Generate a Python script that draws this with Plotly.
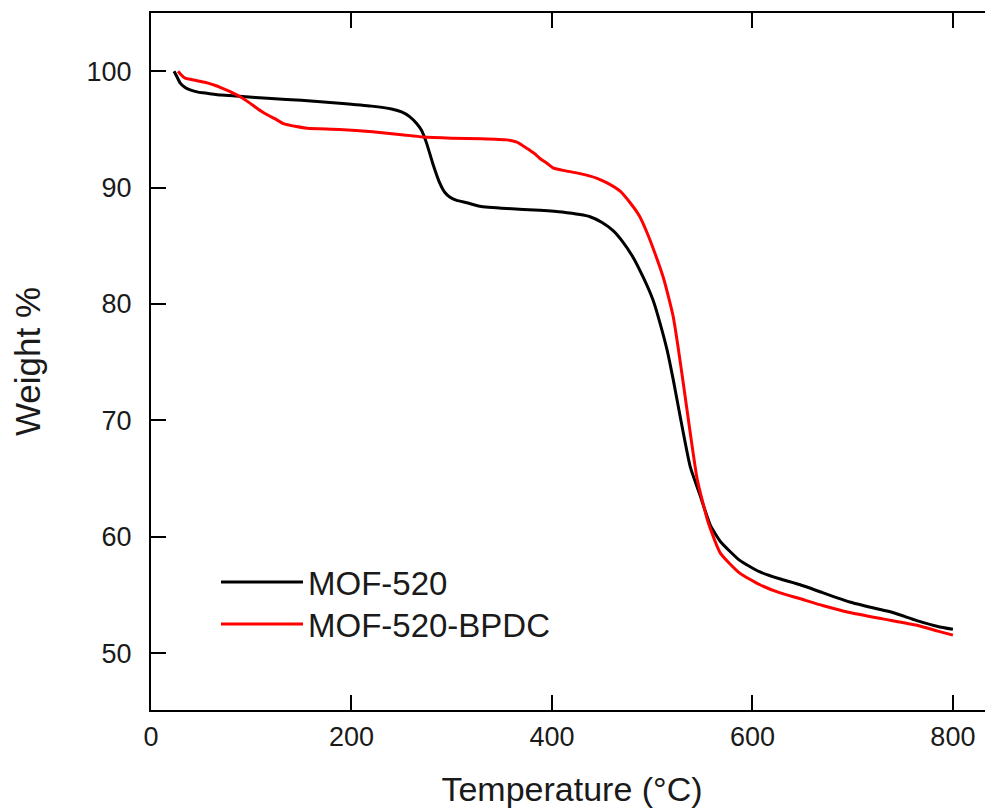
import plotly.graph_objects as go

# MOF-520 (black)
t_mof = [23, 26, 29, 34, 39, 47, 56, 70, 88, 120, 150, 188, 220, 240, 250, 258, 265, 270,
         275, 281, 288, 293, 298, 305, 315, 328, 355, 388, 410, 438, 450, 461, 471, 481,
         491, 501, 508, 515, 521, 528, 538, 548, 558, 568, 587, 607, 627, 647, 670, 697,
         720, 740, 764, 785, 800]
w_mof = [100.0, 99.5, 99.0, 98.6, 98.4, 98.2, 98.1, 97.95, 97.85, 97.65, 97.5, 97.25, 97.0,
         96.75, 96.5, 96.1, 95.5, 94.9, 93.8, 92.1, 90.4, 89.6, 89.2, 88.9, 88.7, 88.4, 88.2,
         88.05, 87.9, 87.5, 87.0, 86.3, 85.3, 84.0, 82.3, 80.3, 78.3, 76.0, 73.5, 70.3, 66.0,
         63.5, 61.0, 59.6, 58.0, 57.0, 56.4, 55.9, 55.2, 54.4, 53.9, 53.5, 52.8, 52.3, 52.05]

# MOF-520-BPDC (red)
t_bpdc = [27, 30, 34, 45, 56, 65, 72, 80, 89, 98, 106, 115, 124, 132, 145, 156, 188, 221, 250,
          271, 300, 330, 355, 365, 371, 378, 383, 388, 395, 401, 410, 428, 445, 455, 468, 478,
          487, 495, 503, 511, 516, 521, 526, 531, 538, 545, 556, 568, 587, 607, 627, 647, 670,
          697, 730, 764, 785, 800]
w_bpdc = [100.0, 99.7, 99.4, 99.2, 99.0, 98.75, 98.5, 98.2, 97.8, 97.3, 96.8, 96.3, 95.9, 95.5,
          95.25, 95.1, 95.0, 94.8, 94.55, 94.35, 94.25, 94.2, 94.1, 93.9, 93.6, 93.2, 92.9, 92.5,
          92.1, 91.7, 91.5, 91.2, 90.8, 90.4, 89.7, 88.7, 87.6, 86.1, 84.3, 82.3, 80.7, 78.9,
          76.2, 73.2, 68.9, 64.9, 61.2, 58.6, 56.9, 55.9, 55.2, 54.7, 54.1, 53.5, 52.95, 52.4,
          51.9, 51.55]

x_ticks = [0, 200, 400, 600, 800]
y_ticks = [50, 60, 70, 80, 90, 100]

FONT = "Liberation Sans, Arial, sans-serif"
TXT = "#1a1a1a"

fig = go.Figure()
fig.add_trace(go.Scatter(x=t_mof, y=w_mof, mode="lines", name="MOF-520", legend="legend",
                         line=dict(color="#000000", width=3, shape="spline", smoothing=0.5)))
fig.add_trace(go.Scatter(x=t_bpdc, y=w_bpdc, mode="lines", name="MOF-520-BPDC", legend="legend2",
                         line=dict(color="#ff0000", width=3, shape="spline", smoothing=0.5)))

leg_common = dict(xanchor="left", yanchor="top", bgcolor="rgba(0,0,0,0)", borderwidth=0,
                  itemwidth=82, font=dict(size=33, family=FONT, color=TXT))

fig.update_layout(
    width=985, height=809,
    margin=dict(l=143, r=0, t=5, b=107),
    paper_bgcolor="white", plot_bgcolor="white",
    font=dict(family=FONT, color=TXT),
    showlegend=True,
    legend=dict(x=65 / 842, y=(702 - 546) / 697, **leg_common),
    legend2=dict(x=65 / 842, y=(702 - 588) / 697, **leg_common),
    xaxis=dict(range=[0, 840], tickvals=x_ticks, ticks="inside", ticklen=15, tickwidth=2,
               tickcolor="black", showline=True, linewidth=2, linecolor="black",
               mirror="ticks", showgrid=False, zeroline=False,
               tickfont=dict(size=27, family=FONT, color=TXT),
               ticklabelstandoff=2,
               title=dict(text="Temperature (°C)", font=dict(size=34, family=FONT, color=TXT),
                          standoff=26)),
    yaxis=dict(range=[45.12, 105], tickvals=y_ticks, ticks="inside", ticklen=15, tickwidth=2,
               tickcolor="black", showline=True, linewidth=2, linecolor="black",
               showgrid=False, zeroline=False,
               tickfont=dict(size=27, family=FONT, color=TXT),
               ticklabelstandoff=12,
               title=dict(text="Weight %", font=dict(size=35, family=FONT, color=TXT),
                          standoff=49)),
    yaxis2=dict(overlaying="y", side="right", matches="y", range=[45.12, 105],
                tickvals=y_ticks, ticks="inside", ticklen=5, tickwidth=2, tickcolor="black",
                showline=False, showgrid=False, zeroline=False, showticklabels=False),
)

fig.write_html("out.html")
